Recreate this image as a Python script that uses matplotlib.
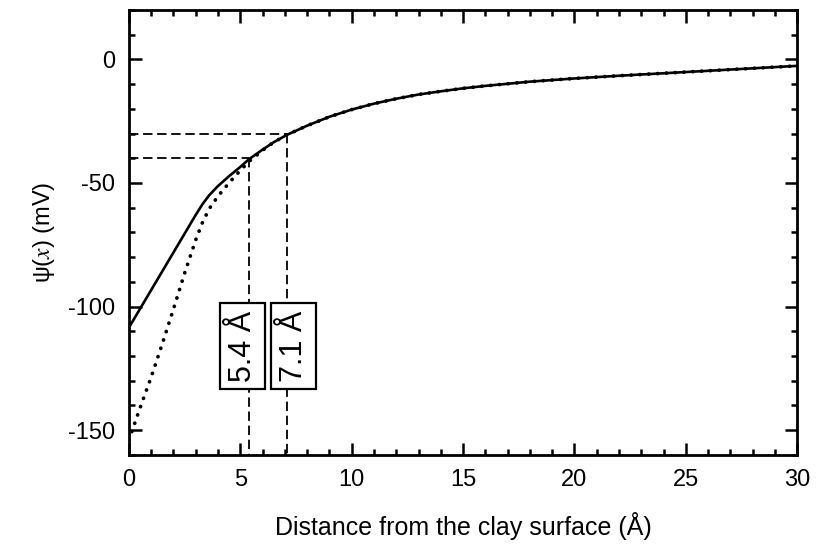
import matplotlib
matplotlib.use("Agg")
import matplotlib.pyplot as plt
from matplotlib.ticker import MultipleLocator

plt.rcParams['font.family'] = ['Liberation Sans', 'DejaVu Sans']
plt.rcParams['mathtext.fontset'] = 'stix'
plt.rcParams['axes.unicode_minus'] = False

# Solid curve (psi(x), mV)
solid_x = [0, 1, 2, 3.0, 3.3, 3.6, 4, 4.5, 5, 5.4, 6, 6.5, 7.1, 8, 9, 10, 11, 12, 13,
           14, 15, 16, 18, 20, 22, 24, 26, 28, 30]
solid_y = [-108.5, -93.3, -78.1, -62.9, -58.6, -55.0, -51.2, -47.2, -43.5, -40.3, -36.5,
           -33.5, -30.5, -26.8, -23.2, -20.3, -17.9, -15.9, -14.2, -12.9, -11.7, -10.7,
           -9.0, -7.7, -6.6, -5.6, -4.6, -3.6, -2.6]

# Dotted curve
dot_x = [0, 0.5, 1, 1.5, 2, 2.5, 3, 3.3, 3.6, 4, 4.5, 5, 5.4, 6, 6.5, 7.1, 8, 9, 10,
         11, 12, 13, 14, 15, 16, 18, 20, 22, 24, 26, 28, 30]
dot_y = [-154, -141, -128.5, -115, -101, -86.5, -73, -66, -60.5, -55.3, -49.9, -44.9,
         -41.2, -36.8, -33.5, -30.5, -26.8, -23.2, -20.3, -17.9, -15.9, -14.2, -12.9,
         -11.7, -10.7, -9.0, -7.7, -6.6, -5.6, -4.6, -3.6, -2.6]

# Marked crossing points
mark_x = [5.4, 7.1]
mark_y = [-40, -30]
mark_labels = ['5.4 Å', '7.1 Å']
label_x = [5.1, 7.4]
label_y = -116

fig = plt.figure(figsize=(8.16, 5.56), dpi=100)
ax = fig.add_axes([0.158, 0.182, 0.819, 0.800])

ax.plot(dot_x, dot_y, color='black', lw=2.7, linestyle=(0, (0.05, 2.3)),
        dash_capstyle='round', zorder=3)
ax.plot(solid_x, solid_y, color='black', lw=1.9, zorder=4)

ymin = -160
for mx, my in zip(mark_x, mark_y):
    ax.plot([0, mx], [my, my], color='black', lw=1.3, linestyle=(0, (5.2, 2.6)), zorder=2)
    ax.plot([mx, mx], [my, ymin], color='black', lw=1.3, linestyle=(0, (5.2, 2.6)), zorder=2)

for lx, lab in zip(label_x, mark_labels):
    ax.text(lx, label_y, lab, rotation=90, ha='center', va='center', fontsize=22,
            zorder=5,
            bbox=dict(boxstyle='square,pad=0.25', facecolor='white', edgecolor='black',
                      linewidth=1.6))

ax.set_xlim(0, 30)
ax.set_ylim(-160, 20)
ax.xaxis.set_major_locator(MultipleLocator(5))
ax.xaxis.set_minor_locator(MultipleLocator(1))
ax.yaxis.set_major_locator(MultipleLocator(50))
ax.yaxis.set_minor_locator(MultipleLocator(10))

ax.tick_params(which='both', direction='in', top=True, right=True, labelsize=17,
               width=1.8)
ax.tick_params(which='major', length=9, pad=10)
ax.tick_params(which='minor', length=4.5)
for s in ax.spines.values():
    s.set_linewidth(2.0)

ax.set_xlabel('Distance from the clay surface (Å)', fontsize=18, labelpad=15)
ax.set_ylabel(r'ψ($x$) (mV)', fontsize=17, labelpad=8)

fig.savefig('out.png', dpi=100)
